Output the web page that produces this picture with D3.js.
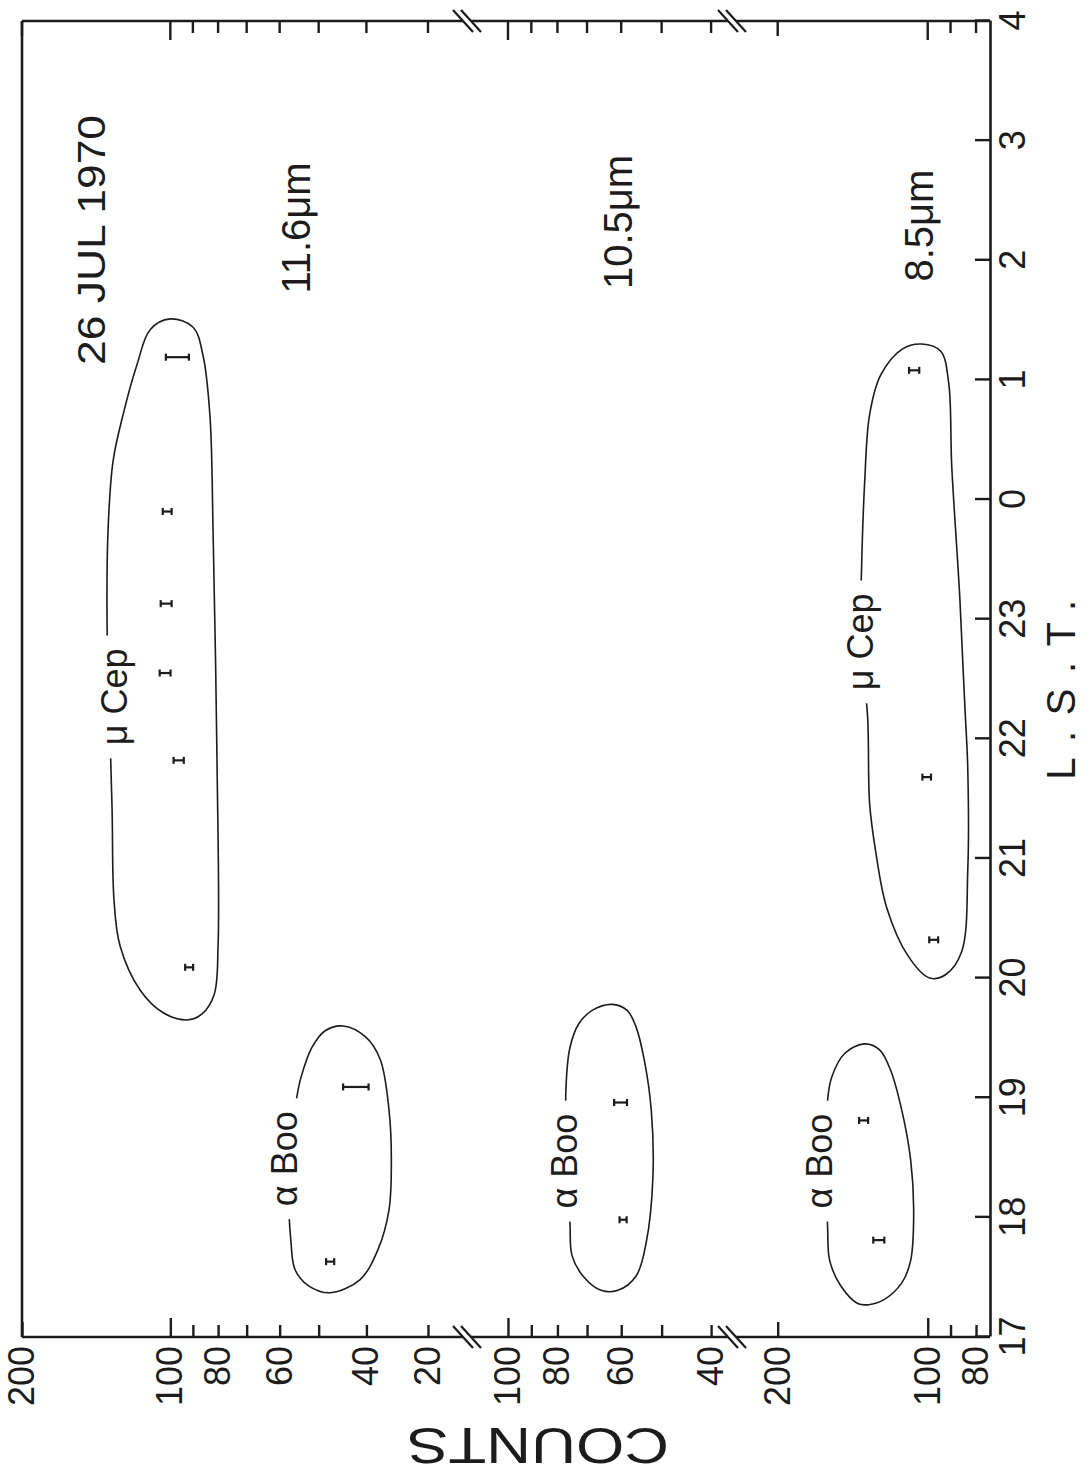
<!DOCTYPE html>
<html>
<head>
<meta charset="utf-8">
<script src="https://cdn.jsdelivr.net/npm/d3@7"></script>
<style>
  body { margin: 0; background: #fff; }
  svg { display: block; }
  text { font-family: "Liberation Sans", Arial, sans-serif; fill: #1c1c1c; }
</style>
</head>
<body>
<div id="chart"></div>
<script>
// L.S.T. in clock hours (0-4 means after midnight), counts on log panels
var lstTicks = [17, 18, 19, 20, 21, 22, 23, 0, 1, 2, 3, 4];

// count axis ticks, one list per panel (11.6, 10.5, 8.5 micron)
var p1TickValues = [200, 100, 90, 80, 70, 60, 50, 40, 30];
var p1TickLabels = ["200", "100", "", "80", "", "60", "", "40", "20"];
var p2TickValues = [100, 90, 80, 70, 60, 50, 40];
var p2TickLabels = ["100", "", "80", "", "60", "", "40"];
var p3TickValues = [200, 100, 90, 80];
var p3TickLabels = ["200", "100", "", "80"];

// 11.6 micron, mu Cep
var cep116Lst = [20.09, 21.82, 22.55, 23.13, 23.90, 1.19];
var cep116Counts = [91.6, 96.2, 102.5, 102, 101.5, 96.9];
var cep116Err = [1.7, 2.3, 2.6, 2.6, 2.1, 5.2];
// 11.6 micron, alpha Boo
var boo116Lst = [17.63, 19.09];
var boo116Counts = [47.4, 42.1];
var boo116Err = [0.9, 2.5];
// 10.5 micron, alpha Boo
var boo105Lst = [17.98, 18.96];
var boo105Counts = [59.5, 60.2];
var boo105Err = [0.95, 1.75];
// 8.5 micron, alpha Boo
var boo85Lst = [17.81, 18.81];
var boo85Counts = [125.4, 134.5];
var boo85Err = [3.2, 2.8];
// 8.5 micron, mu Cep
var cep85Lst = [20.32, 21.68, 1.08];
var cep85Counts = [97.3, 100.5, 106.5];
var cep85Err = [2, 2, 2.5];

// hand drawn loops round each group, [lst, counts]
var loopCep116 = [[1.51, 100.1], [1.42, 109.9], [1.13, 116.8], [0.71, 124.7], [0.32, 130.7], [23.74, 133.8],
  [22.97, 134.4], [22.33, 133.2], [21.42, 131.3], [20.65, 130.1], [20.27, 126.5], [19.90, 115.2], [19.71, 103.4],
  [19.65, 92.5], [19.70, 86.2], [19.86, 81.5], [20.27, 80.0], [21.81, 80.4], [23.74, 81.9], [0.70, 83.1],
  [1.20, 85.8], [1.44, 89.9]];
var loopBoo116 = [[19.60, 44.6], [19.51, 40.2], [19.32, 37.5], [18.90, 36.0], [18.48, 35.6], [18.06, 36.0],
  [17.73, 37.9], [17.48, 41.2], [17.37, 47.4], [17.43, 52.5], [17.56, 55.8], [17.79, 56.9], [18.48, 57.5],
  [19.02, 55.3], [19.17, 54.3], [19.42, 51.6], [19.56, 48.5]];
var loopBoo105 = [[19.78, 62.5], [19.73, 58.4], [19.59, 56.1], [19.32, 54.1], [18.90, 52.4], [18.34, 52.0],
  [17.79, 53.6], [17.51, 56.1], [17.39, 60.9], [17.39, 65.7], [17.51, 71.3], [17.68, 74.9], [17.95, 75.6],
  [18.48, 76.6], [19.07, 77.0], [19.42, 75.6], [19.62, 72.6], [19.73, 68.4]];
var loopBoo85 = [[19.45, 133.8], [19.40, 124.9], [19.23, 118.7], [18.90, 112.8], [18.48, 108.2], [18.06, 106.7],
  [17.64, 108.2], [17.45, 112.8], [17.31, 122.6], [17.27, 131.4], [17.28, 138.2], [17.43, 149.6], [17.64, 157.3],
  [17.91, 158.8], [18.48, 159.6], [18.98, 158.8], [19.17, 155.9], [19.37, 146.8]];
var loopCep85 = [[1.30, 102.8], [1.26, 112.3], [1.04, 124.3], [0.71, 130.8], [0.15, 133.8], [23.45, 135.7],
  [22.83, 136.3], [22.18, 132.0], [21.46, 130.8], [21.06, 127.2], [20.59, 120.9], [20.19, 109.7], [20.00, 99.1],
  [20.03, 92.0], [20.22, 85.5], [20.91, 83.1], [21.74, 83.1], [22.30, 84.3], [23.17, 86.2], [0.28, 89.5],
  [0.98, 90.8], [1.24, 94.2]];

function lst(h) { return h < 12 ? h + 24 : h; }

var W = 1090, H = 1475;
var svg = d3.select("#chart").append("svg").attr("width", W).attr("height", H);
// the figure is printed turned a quarter: draw it upright, then rotate
var g = svg.append("g").attr("transform", "translate(0," + H + ") rotate(-90)");

var x = d3.scaleLinear().domain([17, 28]).range([H - 1337, H - 21]);
var p1 = d3.scaleLog().domain([200, 25]).range([22, 467]);
var p2 = d3.scaleLog().domain([120.3, 36.4]).range([467, 732]);
var p3 = d3.scaleLog().domain([247, 75]).range([732, 990]);

var x0 = x.range()[0], x1 = x.range()[1];
var yTop = p1.range()[0], yBot = p3.range()[1];
var ink = "#1c1c1c";

function tickLen(d) { return d === 100 ? 19 : (d === 200 ? 15 : 12); }

// frame: left (page top) edge, and broken bottom / top edges
var gaps = [p1.range()[1], p3.range()[0]];
var segs = [[yTop, gaps[0] - 4], [gaps[0] + 4, gaps[1] - 4], [gaps[1] + 4, yBot]];
[x0, x1].forEach(function (xx) {
  segs.forEach(function (s) {
    g.append("line").attr("x1", xx).attr("x2", xx).attr("y1", s[0]).attr("y2", s[1])
      .attr("stroke", ink).attr("stroke-width", 2.6);
  });
  gaps.forEach(function (gy) {
    [-4, 4].forEach(function (o) {
      g.append("line").attr("x1", xx + 11).attr("y1", gy + o - 10).attr("x2", xx - 11).attr("y2", gy + o + 10)
        .attr("stroke", ink).attr("stroke-width", 2.2);
    });
  });
});
g.append("line").attr("x1", x0).attr("x2", x1).attr("y1", yTop).attr("y2", yTop)
  .attr("stroke", ink).attr("stroke-width", 2.6);

// L.S.T. axis (page right edge)
g.append("g").attr("transform", "translate(0," + yBot + ")")
  .call(d3.axisBottom(x).tickValues(lstTicks.map(lst)).tickFormat(function (d) { return d % 24; })
    .tickSizeInner(-15).tickSizeOuter(0).tickPadding(9))
  .call(function (a) {
    a.select(".domain").attr("stroke", ink).attr("stroke-width", 2.6);
    a.selectAll(".tick line").attr("stroke", ink).attr("stroke-width", 2.4);
    a.selectAll(".tick text").attr("font-size", 36).attr("font-family", "Liberation Sans, Arial, sans-serif").attr("fill", ink);
  });

// count axes, one per panel, ticks mirrored on the far edge
var panels = [[p1, p1TickValues, p1TickLabels], [p2, p2TickValues, p2TickLabels], [p3, p3TickValues, p3TickLabels]];
panels.forEach(function (p) {
  var sc = p[0], vals = p[1], labs = p[2];
  g.append("g").attr("transform", "translate(" + x0 + ",0)")
    .call(d3.axisLeft(sc).tickValues(vals).tickFormat(function (d, i) { return labs[i]; })
      .tickSizeInner(-12).tickSizeOuter(0).tickPadding(9))
    .call(function (a) {
      a.select(".domain").remove();
      a.selectAll(".tick line").attr("x2", function (d) { return tickLen(d); })
        .attr("stroke", ink).attr("stroke-width", 2.4);
      a.selectAll(".tick text").attr("font-size", 36).attr("font-family", "Liberation Sans, Arial, sans-serif").attr("fill", ink);
    });
  g.selectAll(null).data(vals).enter().append("line")
    .attr("x1", x1).attr("x2", function (d) { return x1 - tickLen(d); })
    .attr("y1", function (d) { return sc(d); }).attr("y2", function (d) { return sc(d); })
    .attr("stroke", ink).attr("stroke-width", 2.4);
});

// loops
function drawLoop(pts, sc) {
  var line = d3.line()
    .x(function (d) { return x(lst(d[0])); })
    .y(function (d) { return sc(d[1]); })
    .curve(d3.curveCatmullRomClosed.alpha(0.5));
  g.append("path").attr("d", line(pts)).attr("fill", "none").attr("stroke", ink).attr("stroke-width", 1.6);
}
drawLoop(loopCep116, p1);
drawLoop(loopBoo116, p1);
drawLoop(loopBoo105, p2);
drawLoop(loopBoo85, p3);
drawLoop(loopCep85, p3);

// error bars
function drawBars(lsts, counts, errs, sc) {
  var pts = lsts.map(function (l, i) { return { l: lst(l), c: counts[i], e: errs[i] }; });
  var bar = g.append("g").attr("stroke", ink).attr("stroke-width", 2.2);
  pts.forEach(function (d) {
    var xx = x(d.l), lo = sc(d.c - d.e), hi = sc(d.c + d.e);
    bar.append("line").attr("x1", xx).attr("x2", xx).attr("y1", lo).attr("y2", hi);
    bar.append("line").attr("x1", xx - 3.5).attr("x2", xx + 3.5).attr("y1", lo).attr("y2", lo);
    bar.append("line").attr("x1", xx - 3.5).attr("x2", xx + 3.5).attr("y1", hi).attr("y2", hi);
  });
}
drawBars(cep116Lst, cep116Counts, cep116Err, p1);
drawBars(boo116Lst, boo116Counts, boo116Err, p1);
drawBars(boo105Lst, boo105Counts, boo105Err, p2);
drawBars(boo85Lst, boo85Counts, boo85Err, p3);
drawBars(cep85Lst, cep85Counts, cep85Err, p3);

// star names sit in a gap of their loop
function starLabel(txt, l, c, sc) {
  var t = g.append("text").attr("x", x(lst(l))).attr("y", sc(c))
    .attr("text-anchor", "middle").attr("font-size", 36).text(txt);
  var b = t.node().getBBox();
  g.insert("rect", function () { return t.node(); })
    .attr("x", b.x - 13).attr("y", b.y + 2).attr("width", b.width + 26).attr("height", b.height)
    .attr("fill", "#fff");
}
starLabel("\u03bc Cep", 22.35, 122.5, p1);
starLabel("\u03b1 Boo", 18.49, 55.3, p1);
starLabel("\u03b1 Boo", 18.47, 73.2, p2);
starLabel("\u03b1 Boo", 18.47, 155.9, p3);
starLabel("\u03bc Cep", 22.81, 128.9, p3);

// titles
g.append("text").attr("x", x(lst(2.17))).attr("y", p1(135.7)).attr("text-anchor", "middle")
  .attr("font-size", 38).attr("textLength", 250).attr("lengthAdjust", "spacingAndGlyphs").text("26 JUL 1970");
g.append("text").attr("x", x(lst(2.27))).attr("y", p1(52.1)).attr("text-anchor", "middle")
  .attr("font-size", 40).text("11.6\u03bcm");
g.append("text").attr("x", x(lst(2.32))).attr("y", p2(57.1)).attr("text-anchor", "middle")
  .attr("font-size", 40).text("10.5\u03bcm");
g.append("text").attr("x", x(lst(2.29))).attr("y", p3(97.7)).attr("text-anchor", "middle")
  .attr("font-size", 40).text("8.5\u03bcm");

// axis titles
g.append("text").attr("x", x(22.41)).attr("y", yBot + 85).attr("text-anchor", "middle")
  .attr("font-size", 40).attr("textLength", 180).attr("lengthAdjust", "spacing").text("L.S.T.");
g.append("text").attr("transform", "translate(" + (x0 - 91) + "," + ((yTop + yBot) / 2 + 32) + ") rotate(-90)")
  .attr("text-anchor", "middle").attr("font-size", 50).attr("textLength", 262).attr("lengthAdjust", "spacingAndGlyphs")
  .text("COUNTS");
</script>
</body>
</html>
